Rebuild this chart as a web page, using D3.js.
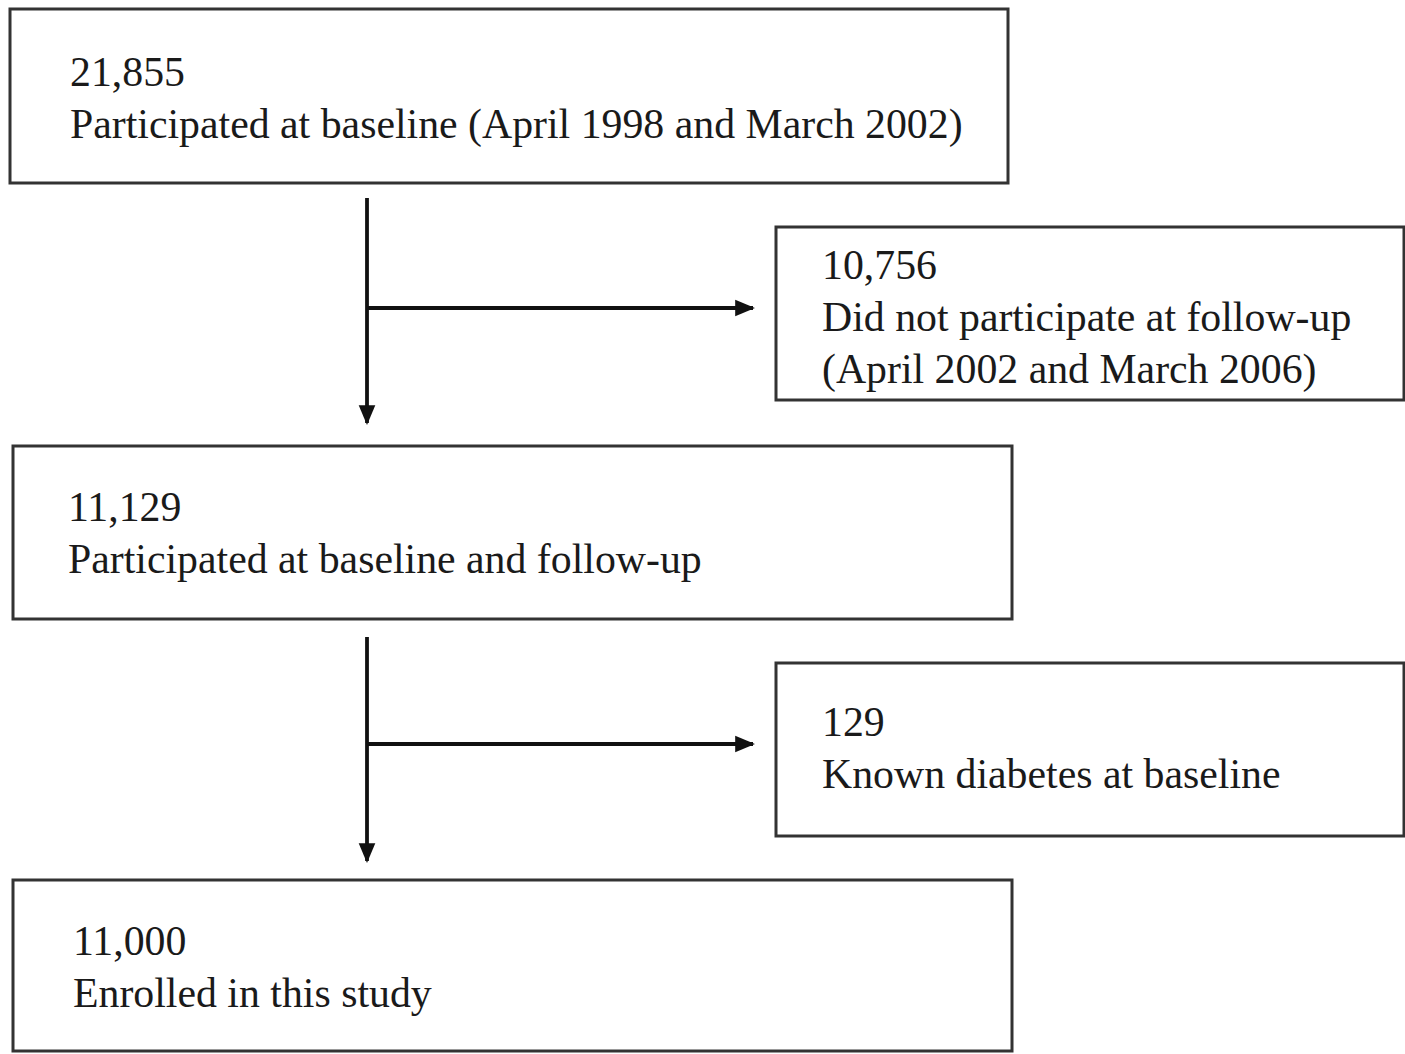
<!DOCTYPE html>
<html>
<head>
<meta charset="utf-8">
<script src="https://d3js.org/d3.v7.min.js"></script>
<style>
  body { margin: 0; background: #fff; }
</style>
</head>
<body>
<div id="flow"></div>
<script>
// box contents
var counts = ["21,855", "10,756", "11,129", "129", "11,000"];
var descriptions = [
	["Participated at baseline (April 1998 and March 2002)"],
	["Did not participate at follow-up", "(April 2002 and March 2006)"],
	["Participated at baseline and follow-up"],
	["Known diabetes at baseline"],
	["Enrolled in this study"]
];

drawFlow("flow", 1405, 1054);

function drawFlow(container_id, width, height) {
	var svg = d3.select("#" + container_id)
				.append("svg")
				.attr("width", width)
				.attr("height", height);

	var defs = svg.append("defs");
	defs.append("marker")
		.attr("id", "head")
		.attr("viewBox", "0 0 10 10")
		.attr("refX", 9)
		.attr("refY", 5)
		.attr("markerWidth", 5.2)
		.attr("markerHeight", 5.2)
		.attr("markerUnits", "strokeWidth")
		.attr("orient", "auto")
		.append("path")
		.attr("d", "M0,0.8 L10,5 L0,9.2 Z")
		.attr("fill", "#111");

	// box frames: [x, y, w, h, text left]
	var frames = [
		[10, 9, 998, 174, 70],
		[776, 227, 628, 173, 822],
		[13, 446, 999, 173, 68],
		[776, 663, 628, 173, 822],
		[13, 880, 999, 171, 73]
	];
	var firstBase = [86, 279, 521, 736, 955];
	var lineGap = 52;

	var boxes = svg.selectAll("g.box")
		.data(counts)
		.enter()
		.append("g")
		.attr("class", "box");

	boxes.append("rect")
		.attr("x", function(d, i) { return frames[i][0]; })
		.attr("y", function(d, i) { return frames[i][1]; })
		.attr("width", function(d, i) { return frames[i][2]; })
		.attr("height", function(d, i) { return frames[i][3]; })
		.attr("fill", "#fff")
		.attr("stroke", "#333")
		.attr("stroke-width", 3);

	boxes.each(function(d, i) {
		var lines = [d].concat(descriptions[i]);
		d3.select(this).selectAll("text")
			.data(lines)
			.enter()
			.append("text")
			.attr("x", frames[i][4])
			.attr("y", function(t, j) { return firstBase[i] + j * lineGap; })
			.attr("font-family", "'Liberation Serif', 'Times New Roman', serif")
			.attr("font-size", "41.8px")
			.attr("fill", "#1a1a1a")
			.text(function(t) { return t; });
	});

	// connectors: trunk x, trunk from/to, branch y, branch end
	var links = [
		[367, 198, 423, 308, 753],
		[367, 637, 861, 744, 753]
	];
	var arrows = svg.append("g");
	links.forEach(function(l) {
		arrows.append("line")
			.attr("x1", l[0]).attr("y1", l[1])
			.attr("x2", l[0]).attr("y2", l[2])
			.attr("stroke", "#111")
			.attr("stroke-width", 3.8)
			.attr("marker-end", "url(#head)");
		arrows.append("line")
			.attr("x1", l[0]).attr("y1", l[3])
			.attr("x2", l[4]).attr("y2", l[3])
			.attr("stroke", "#111")
			.attr("stroke-width", 3.8)
			.attr("marker-end", "url(#head)");
	});
}
</script>
</body>
</html>
